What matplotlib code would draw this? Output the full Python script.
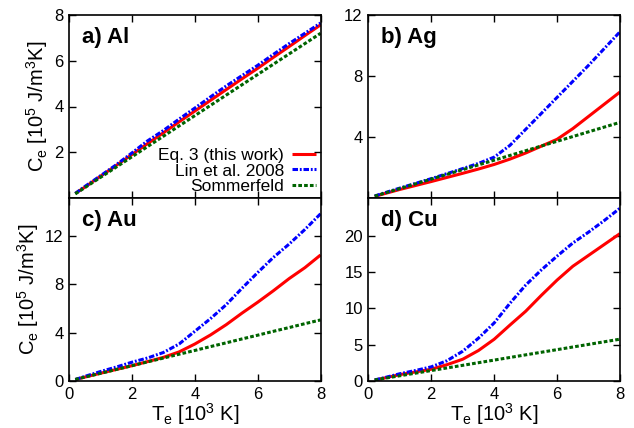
import matplotlib
matplotlib.use("Agg")
import matplotlib.pyplot as plt

plt.rcParams['font.family'] = ['Liberation Sans', 'DejaVu Sans']
plt.rcParams['mathtext.default'] = 'regular'

# Temperature grid (10^3 K)
T = [0.2, 0.5, 1, 1.5, 2, 2.5, 3, 3.5, 4, 4.5, 5, 5.5, 6, 6.5, 7, 7.5, 8]

# a) Al
al_eq3 = [0.2, 0.47, 0.95, 1.42, 1.9, 2.38, 2.85, 3.33, 3.8, 4.27, 4.74, 5.21, 5.67, 6.15, 6.62, 7.1, 7.57]
al_lin = [0.2, 0.5, 0.97, 1.45, 1.97, 2.5, 2.95, 3.45, 3.93, 4.42, 4.9, 5.35, 5.8, 6.28, 6.75, 7.2, 7.65]
al_som = [0.18, 0.45, 0.9, 1.35, 1.8, 2.25, 2.7, 3.15, 3.6, 4.05, 4.5, 4.95, 5.4, 5.85, 6.3, 6.75, 7.2]

# b) Ag
ag_eq3 = [0.1, 0.28, 0.56, 0.82, 1.08, 1.35, 1.62, 1.9, 2.2, 2.55, 2.95, 3.4, 3.85, 4.55, 5.35, 6.15, 6.95]
ag_lin = [0.13, 0.33, 0.65, 0.96, 1.27, 1.6, 1.93, 2.27, 2.68, 3.45, 4.5, 5.55, 6.6, 7.65, 8.7, 9.8, 10.9]
ag_som = [0.12, 0.31, 0.62, 0.93, 1.24, 1.55, 1.86, 2.17, 2.48, 2.79, 3.1, 3.41, 3.72, 4.03, 4.34, 4.65, 4.96]

# c) Au
au_eq3 = [0.12, 0.32, 0.64, 0.95, 1.26, 1.6, 1.95, 2.4, 3.05, 3.8, 4.65, 5.6, 6.5, 7.45, 8.45, 9.35, 10.4]
au_lin = [0.12, 0.38, 0.78, 1.15, 1.55, 1.9, 2.35, 3.05, 4.1, 5.15, 6.3, 7.65, 8.95, 10.2, 11.3, 12.5, 13.8]
au_som = [0.13, 0.32, 0.63, 0.95, 1.26, 1.58, 1.89, 2.21, 2.52, 2.84, 3.15, 3.47, 3.78, 4.1, 4.41, 4.73, 5.04]

# d) Cu
cu_eq3 = [0.12, 0.4, 0.88, 1.25, 1.62, 2.25, 3.0, 4.2, 5.75, 7.7, 9.6, 11.8, 13.9, 15.8, 17.3, 18.8, 20.3]
cu_lin = [0.15, 0.45, 1.0, 1.45, 1.95, 2.8, 4.1, 5.9, 8.0, 10.7, 13.2, 15.3, 17.2, 19.0, 20.5, 22.1, 23.8]
cu_som = [0.14, 0.36, 0.72, 1.08, 1.44, 1.8, 2.16, 2.52, 2.88, 3.24, 3.6, 3.96, 4.32, 4.68, 5.04, 5.4, 5.76]

labels = ["Eq. 3 (this work)", "Lin et al. 2008", "Sommerfeld"]
panel_titles = ["a) Al", "b) Ag", "c) Au", "d) Cu"]
panel_data = [(al_eq3, al_lin, al_som), (ag_eq3, ag_lin, ag_som),
              (au_eq3, au_lin, au_som), (cu_eq3, cu_lin, cu_som)]
ylims = [8, 12, 15.1, 25.2]
yticks = [[2, 4, 6, 8], [4, 8, 12], [0, 4, 8, 12], [0, 5, 10, 15, 20]]
xticks = [0, 2, 4, 6, 8]

fig = plt.figure(figsize=(6.34, 4.28), dpi=100)
fig.subplots_adjust(left=69/634, right=620/634, top=1-15/428, bottom=1-381/428,
                    wspace=0.19, hspace=0.0)
axes = fig.subplots(2, 2).ravel()

for i, ax in enumerate(axes):
    eq3, lin, som = panel_data[i]
    l1, = ax.plot(T, eq3, color='#ff0000', lw=2.2, solid_capstyle='butt')
    l2, = ax.plot(T, lin, color='#0000ff', lw=2.2, linestyle=(0, (1.8, 0.6, 0.6, 0.6)))
    l3, = ax.plot(T, som, color='#006400', lw=2.2, linestyle=(0, (1.2, 0.7)))
    ax.set_xlim(0, 8)
    ax.set_ylim(0, ylims[i])
    ax.set_xticks(xticks)
    ax.set_yticks(yticks[i])
    ax.tick_params(direction='in', top=True, right=True, length=5, width=1,
                   labelsize=12, pad=4)
    for s in ax.spines.values():
        s.set_linewidth(1.2)
    if i < 2:
        ax.tick_params(labelbottom=False)
    else:
        ax.set_xlabel(r'T$_e$ [10$^3$ K]', fontsize=14.5, labelpad=0)
    if i % 2 == 0:
        ax.set_ylabel(r'C$_e$ [10$^5$ J/m$^3$K]', fontsize=14.5, labelpad=3)
    ax.text(0.05, 0.935, panel_titles[i], transform=ax.transAxes, fontsize=16,
            fontweight='bold', va='top', ha='left')
    if i == 0:
        leg = ax.legend([l1, l2, l3], labels, loc='lower right', markerfirst=False,
                        frameon=False, fontsize=12.5, handlelength=1.4, handletextpad=0.45,
                        labelspacing=0.0, borderaxespad=0.2, borderpad=0.05)
        for t in leg.get_texts():
            t.set_ha('right')

fig.savefig("out.png", dpi=100)
